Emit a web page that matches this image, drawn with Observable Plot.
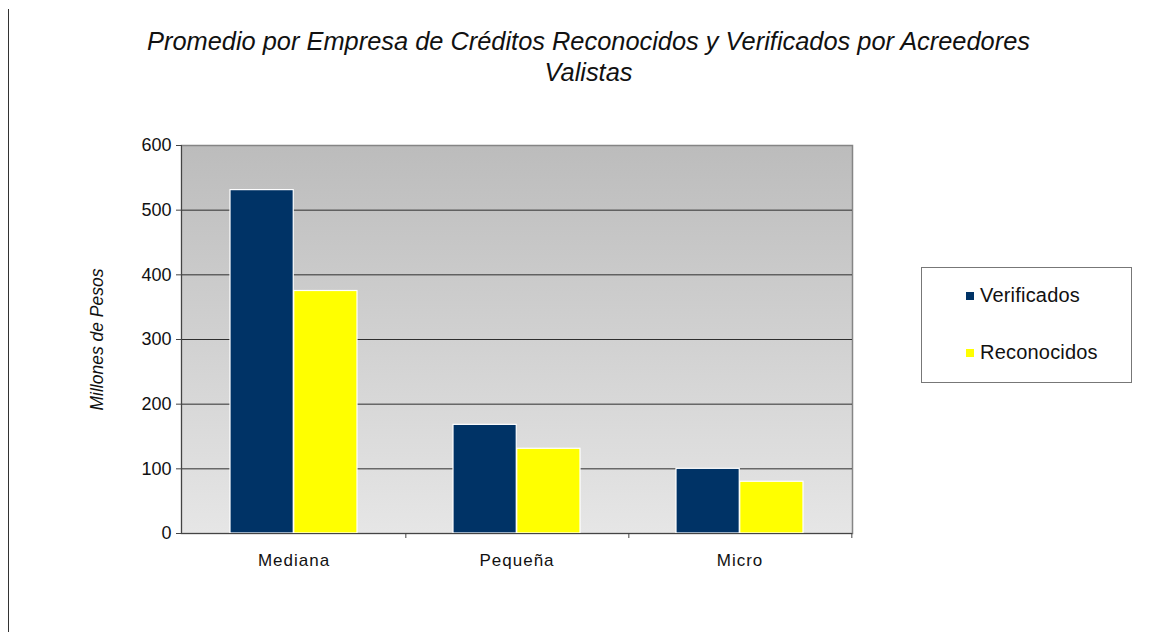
<!DOCTYPE html>
<html><head><meta charset="utf-8">
<script src="https://cdn.jsdelivr.net/npm/d3@7"></script>
<script src="https://cdn.jsdelivr.net/npm/@observablehq/plot@0.6"></script>
<style>
body{margin:0;background:#fff;font-family:"Liberation Sans",Arial,sans-serif;}
#wrap{position:relative;width:1153px;height:632px;overflow:hidden;background:#fff;}
#chart{position:absolute;left:0;top:0;}
#pageline{position:absolute;left:8px;top:9px;width:1px;height:623px;background:#333;}
#title{position:absolute;left:0;width:1177px;top:26px;text-align:center;font-style:italic;font-size:25.4px;line-height:31px;color:#111;}
#legend{position:absolute;left:921px;top:267px;width:211px;height:116px;border:1px solid #777;background:#fff;box-sizing:border-box;}
.item{position:absolute;left:44px;font-size:20px;color:#111;display:flex;align-items:center;letter-spacing:0.2px;}
.sw{width:8px;height:8px;margin-right:6px;display:inline-block;}
</style></head>
<body>
<div id="wrap">
  <div id="chart"></div>
  <div id="pageline"></div>
  <div id="title">Promedio por Empresa de Créditos Reconocidos y Verificados por Acreedores<br>Valistas</div>
  <div id="legend"></div>
</div>
<script>
const categories = ["Mediana", "Pequeña", "Micro"];
const seriesNames = ["Verificados", "Reconocidos"];
const verificados = [531, 168, 100];
const reconocidos = [375, 131, 80];
const yTicks = [0, 100, 200, 300, 400, 500, 600];
const gridTicks = [100, 200, 300, 400, 500];
const colors = ["#003366", "#ffff00"];
const yLabel = "Millones de Pesos";

const W = 1153, H = 632, mL = 181, mR = 301, mT = 145, mB = 99;
const padIn = 0.43, padOut = 0.215;
const step = (W - mL - mR) / (categories.length - padIn + 2 * padOut);
const half = step * (1 - padIn) / 2;

function defs() {
  const d = d3.create("svg:defs");
  const g = d.append("linearGradient").attr("id", "bggrad")
    .attr("x1", 0).attr("y1", 0).attr("x2", 0).attr("y2", 1);
  g.append("stop").attr("offset", "0%").attr("stop-color", "#bcbcbc");
  g.append("stop").attr("offset", "100%").attr("stop-color", "#e6e6e6");
  return d.node();
}

const chart = Plot.plot({
  width: W, height: H,
  marginLeft: mL, marginRight: mR, marginTop: mT, marginBottom: mB,
  style: {fontFamily: "'Liberation Sans', Arial, sans-serif", background: "transparent", color: "#111", overflow: "visible"},
  x: {type: "band", domain: categories, paddingInner: padIn, paddingOuter: padOut},
  y: {domain: [0, 600]},
  marks: [
    defs,
    Plot.frame({fill: "url(#bggrad)", stroke: "#858585", strokeWidth: 1.5}),
    Plot.ruleY(gridTicks, {stroke: "#2e2e2e", strokeWidth: 1}),
    Plot.barY(categories, {x: d => d, y: (d, i) => verificados[i], fill: colors[0], stroke: "#fff", strokeWidth: 1.2, insetRight: half}),
    Plot.barY(categories, {x: d => d, y: (d, i) => reconocidos[i], fill: colors[1], stroke: "#fff", strokeWidth: 1.2, insetLeft: half}),
    Plot.frame({anchor: "left", stroke: "#444", strokeWidth: 1}),
    Plot.ruleY([0], {stroke: "#444", strokeWidth: 1}),
    Plot.ruleX(categories, {x: d => d, y1: 0, y2: 0, insetBottom: -5, dx: step / 2, stroke: "#444"}),
    Plot.axisY(yTicks, {tickSize: 5, tickPadding: 5, fontSize: 18, stroke: "#444", label: yLabel, labelArrow: "none", labelAnchor: "center", labelOffset: 91}),
    Plot.axisX({tickSize: 0, tickPadding: 20, fontSize: 17, label: null})
  ]
});
document.getElementById("chart").appendChild(chart);
const yl = chart.querySelector('[aria-label="y-axis label"]');
if (yl) {
  yl.style.fontStyle = "italic";
  yl.style.fontSize = "17.5px";
  yl.querySelectorAll("text").forEach(t => { t.textContent = yLabel; });
}
const xt = chart.querySelector('[aria-label="x-axis tick label"]');
if (xt) { xt.style.letterSpacing = "1px"; xt.style.fontSize = "17px"; }
const ytl = chart.querySelector('[aria-label="y-axis tick label"]');
if (ytl) { ytl.style.fontSize = "18px"; }

const legend = document.getElementById("legend");
const tops = [16, 73];
seriesNames.forEach((s, i) => {
  const it = document.createElement("div");
  it.className = "item";
  it.style.top = tops[i] + "px";
  it.innerHTML = `<span class="sw" style="background:${colors[i]}"></span><span>${s}</span>`;
  legend.appendChild(it);
});
</script>
</body></html>
